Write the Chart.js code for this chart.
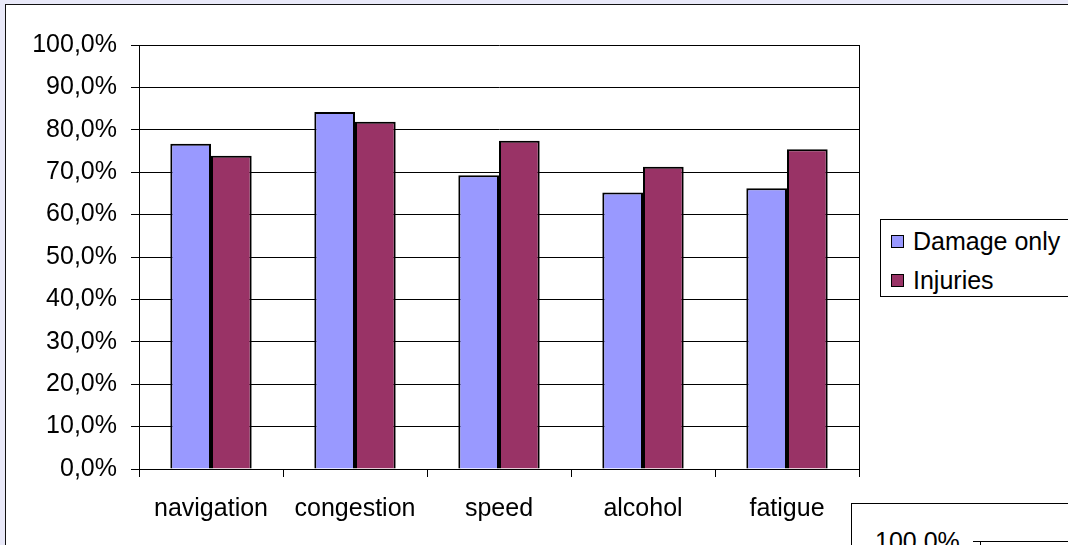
<!DOCTYPE html>
<html>
<head>
<meta charset="utf-8">
<script src="https://cdn.jsdelivr.net/npm/chart.js@4"></script>
<style>
  html, body { margin: 0; padding: 0; }
  body { width: 1068px; height: 545px; overflow: hidden; position: relative; background: #e9e9f9; font-family: "Liberation Sans", Arial, sans-serif; }
  #frame { position: absolute; left: 5px; top: 4px; width: 1200px; height: 700px; border: 1.5px solid #111; background: #fff; }
  #chart { position: absolute; left: 0; top: 0; }
  #legend { position: absolute; left: 880px; top: 219px; width: 230px; height: 78px; border: 1px solid #000; background: #fff; box-sizing: border-box; }
  .item { position: absolute; left: 10px; font-size: 25px; color: #000; white-space: nowrap; line-height: 28px; }
  .item span { display: inline-block; width: 11px; height: 11px; border: 1px solid #000; margin-right: 9px; vertical-align: 2px; }
  #second { position: absolute; left: 851px; top: 503px; width: 300px; height: 200px; border: 1px solid #000; background: #fff; }
  #second .lbl { position: absolute; left: 23px; top: 23px; font-size: 25px; color: #000; }
  #second .ln { position: absolute; left: 121px; top: 37px; width: 200px; border-top: 1px solid #000; }
  #second .tk { position: absolute; left: 128px; top: 37px; height: 10px; border-left: 1px solid #000; }
</style>
</head>
<body>
<div id="frame"></div>
<canvas id="chart" width="1068" height="545"></canvas>
<div id="legend"></div>
<div id="second"><div class="lbl">100,0%</div><div class="ln"></div><div class="tk"></div></div>
<script>
// categories et valeurs
const categories = ['navigation', 'congestion', 'speed', 'alcohol', 'fatigue']
const damageOnly = [76.7, 84.2, 69.3, 65.2, 66.2]
const injuries = [73.9, 81.9, 77.4, 71.3, 75.4]
const yTicks = [0, 10, 20, 30, 40, 50, 60, 70, 80, 90, 100]

const seriesNames = ['Damage only', 'Injuries']
const seriesColors = ['#9999ff', '#993366']

// cadre de la zone de tracé (bord droit)
const plotBorder = {
  id: 'plotBorder',
  afterDraw(chart) {
    const a = chart.chartArea
    const ctx = chart.ctx
    ctx.save()
    ctx.strokeStyle = '#000'
    ctx.lineWidth = 1
    ctx.beginPath()
    ctx.moveTo(Math.round(a.right) + 0.5, a.top)
    ctx.lineTo(Math.round(a.right) + 0.5, a.bottom)
    ctx.stroke()
    ctx.restore()
  }
}

const chart = new Chart(document.getElementById('chart'), {
  type: 'bar',
  data: {
    labels: categories,
    datasets: [{
      label: seriesNames[0],
      data: damageOnly,
      backgroundColor: seriesColors[0],
      borderColor: '#000',
      borderWidth: 2
    }, {
      label: seriesNames[1],
      data: injuries,
      backgroundColor: seriesColors[1],
      borderColor: '#000',
      borderWidth: 2
    }]
  },
  plugins: [plotBorder],
  options: {
    responsive: false,
    animation: false,
    categoryPercentage: 0.565,
    barPercentage: 1,
    layout: { padding: { top: 45, left: 0, right: 209, bottom: 0 } },
    plugins: {
      legend: { display: false },
      tooltip: { enabled: false }
    },
    scales: {
      x: {
        afterFit: s => { s.height = 76 },
        grid: { offset: true, drawOnChartArea: false, tickLength: 8, color: '#000', tickColor: '#000' },
        border: { color: '#000', width: 1 },
        ticks: { color: '#000', padding: 17, font: { family: 'Liberation Sans', size: 25 } }
      },
      y: {
        min: 0,
        max: 100,
        afterFit: s => { s.width = 139 },
        afterBuildTicks: s => { s.ticks = yTicks.map(v => ({ value: v })) },
        grid: { color: '#000', tickColor: '#000', tickLength: 8, lineWidth: 1 },
        border: { color: '#000', width: 1 },
        ticks: {
          color: '#000',
          padding: 14,
          font: { family: 'Liberation Sans', size: 25 },
          callback: v => v.toFixed(1).replace('.', ',') + '%'
        }
      }
    }
  }
})

// légende construite depuis les datasets
const legend = document.getElementById('legend')
chart.data.datasets.forEach((ds, i) => {
  const div = document.createElement('div')
  div.className = 'item'
  div.style.top = (7 + i * 39) + 'px'
  div.innerHTML = '<span style="background:' + ds.backgroundColor + '"></span>' + ds.label
  legend.appendChild(div)
})
</script>
</body>
</html>
